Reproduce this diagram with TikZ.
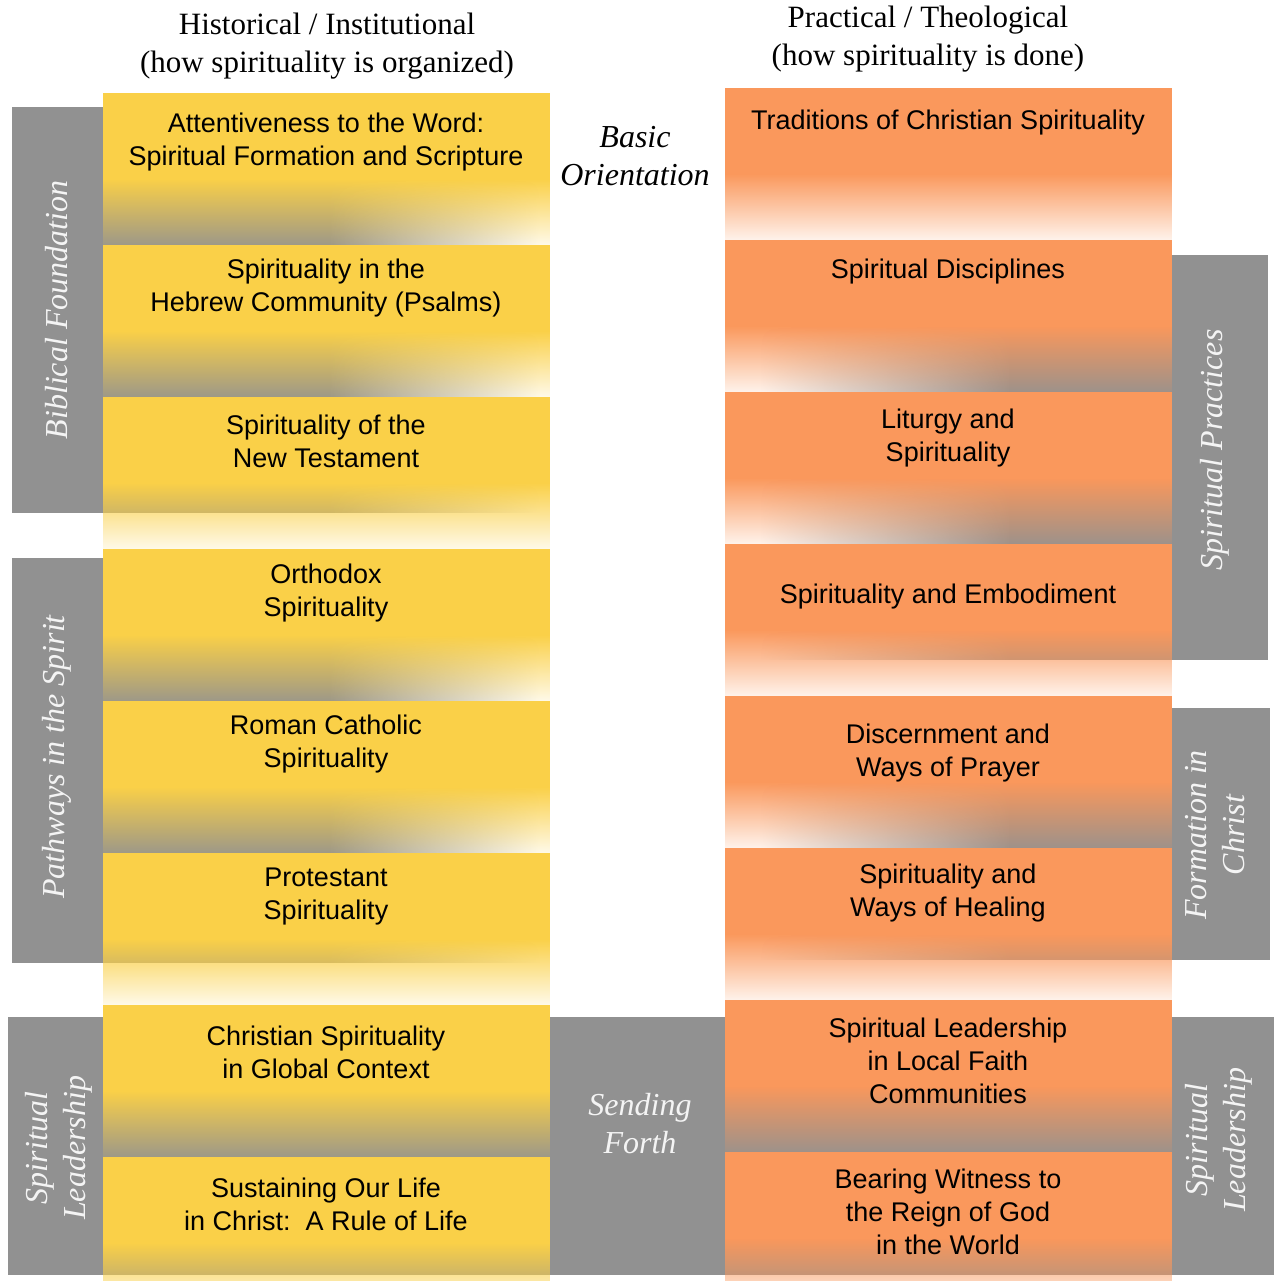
\documentclass[tikz,border=0pt]{standalone}
\usepackage{fontspec}
\setmainfont{Liberation Serif}
\setsansfont{Liberation Sans}
\usetikzlibrary{fadings}
\definecolor{ycol}{RGB}{250,208,72}
\definecolor{ocol}{RGB}{250,152,92}
\definecolor{gcol}{RGB}{145,145,145}
\tikzfading[name=cellfade, top color=transparent!0, bottom color=transparent!88]
\tikzfading[name=greyleft, left color=transparent!0, right color=transparent!100]
\tikzfading[name=greyright, left color=transparent!100, right color=transparent!0]
\newcommand{\ycell}[1]{\fill[ycol] (103,#1) rectangle (550,#1-87); \fill[ycol, path fading=cellfade] (103,#1-86) rectangle (550,#1-152);}
\newcommand{\ocell}[1]{\fill[ocol] (725,#1) rectangle (1172,#1-87); \fill[ocol, path fading=cellfade] (725,#1-86) rectangle (1172,#1-152);}
\newcommand{\band}[4]{\fill[gcol] ( #1 , #2 ) rectangle ( #3 , #4 );}
\tikzset{
  celltext/.style={font=\sffamily\fontsize{27}{33}\selectfont, align=center},
  bandtext/.style={font=\itshape\fontsize{32}{38}\selectfont, text=white!90!gcol, align=center, rotate=90},
  headtext/.style={font=\fontsize{31}{38}\selectfont, align=center},
}
\begin{document}
\begin{tikzpicture}[x=1pt, y=1pt]
        \useasboundingbox (0,0) rectangle (1274,1281);
        % grey bands, left
        \band{12}{1174}{331}{768}
        \fill[gcol, path fading=greyleft] (330,1174) rectangle (540,768);
        \band{12}{723}{331}{318}
        \fill[gcol, path fading=greyleft] (330,723) rectangle (540,318);
        % grey bands, right
        \band{1009}{1026}{1268}{621}
        \fill[gcol, path fading=greyright] (760,1026) rectangle (1010,621);
        \band{1009}{573}{1270}{321}
        \fill[gcol, path fading=greyright] (760,573) rectangle (1010,321);
        % grey band, bottom
        \band{8}{264}{1274}{6}
        % left column
        \ycell{1188}
        \ycell{1036}
        \ycell{884}
        \ycell{732}
        \ycell{580}
        \ycell{428}
        \ycell{276}
        \ycell{124}
        % right column
        \ocell{1193}
        \ocell{1041}
        \ocell{889}
        \ocell{737}
        \ocell{585}
        \ocell{433}
        \ocell{281}
        \ocell{129}
        % headings
        \node[headtext] (histhead) at (327,1235) {Historical / Institutional\\(how spirituality is organized)};
        \node[headtext] (prachead) at (928,1242) {Practical / Theological\\(how spirituality is done)};
        \node[headtext, font=\itshape\fontsize{32}{38}\selectfont] (basic) at (635,1125) {Basic\\Orientation};
        % band labels
        \node[bandtext] (biblical) at (57,971) {Biblical Foundation};
        \node[bandtext] (pathways) at (57,524) {Pathways in the Spirit};
        \node[bandtext] (leadleft) at (59,133) {Spiritual\\Leadership};
        \node[bandtext, rotate=-90] (sending) at (640,157) {Sending\\Forth};
        \node[bandtext] (leadright) at (1219,141) {Spiritual\\Leadership};
        \node[bandtext] (practices) at (1215,831) {Spiritual Practices};
        \node[bandtext] (formation) at (1215,446) {Formation in\\Christ};
        % cell texts, left
        \node[celltext] (attent) at (326,1139) {Attentiveness to the Word:\\Spiritual Formation and Scripture};
        \node[celltext] (hebrew) at (326,993) {Spirituality in the\\Hebrew Community (Psalms)};
        \node[celltext] (newtest) at (326,840) {Spirituality of the\\New Testament};
        \node[celltext] (orthodox) at (326,688) {Orthodox\\Spirituality};
        \node[celltext] (catholic) at (326,537) {Roman Catholic\\Spirituality};
        \node[celltext] (protestant) at (326,384) {Protestant\\Spirituality};
        \node[celltext] (global) at (326,229) {Christian Spirituality\\in Global Context};
        \node[celltext] (rule) at (326,77) {Sustaining Our Life\\in Christ:\ \ A Rule of Life};
        % cell texts, right
        \node[celltext] (traditions) at (948,1158) {Traditions of Christian Spirituality};
        \node[celltext] (disciplines) at (948,1009) {Spiritual Disciplines};
        \node[celltext] (liturgy) at (948,843) {Liturgy and\\Spirituality};
        \node[celltext] (embodiment) at (948,684) {Spirituality and Embodiment};
        \node[celltext] (discern) at (948,528) {Discernment and\\Ways of Prayer};
        \node[celltext] (healing) at (948,388) {Spirituality and\\Ways of Healing};
        \node[celltext] (leadership) at (948,220) {Spiritual Leadership\\in Local Faith\\Communities};
        \node[celltext] (witness) at (948,69) {Bearing Witness to\\the Reign of God\\in the World};
    \end{tikzpicture}
\end{document}
